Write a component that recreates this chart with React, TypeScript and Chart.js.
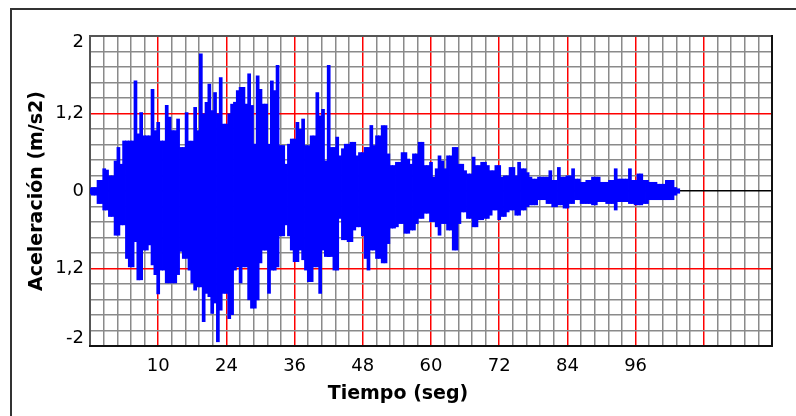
import React, { useEffect, useRef } from "react";
import { Chart, registerables } from "chart.js";

Chart.register(...registerables);

// Envelope of the accelerogram, sampled every 0.5 s (m/s2)
const sampleStep = 0.5;
const positivePeaks = [
  0.05, 0.06, 0.06, 0.17, 0.17, 0.35, 0.33, 0.24, 0.24, 0.47,
  0.68, 0.42, 0.78, 0.78, 0.78, 0.78, 1.71, 0.89, 1.22, 0.86,
  0.86, 0.86, 1.58, 0.94, 1.07, 0.78, 0.78, 1.33, 1.15, 0.94,
  0.94, 1.12, 0.68, 0.68, 1.22, 0.78, 0.78, 1.3, 0.94, 2.13,
  1.2, 1.38, 1.66, 1.25, 1.53, 1.2, 1.76, 1.04, 1.04, 1.2,
  1.35, 1.38, 1.56, 1.61, 1.61, 1.35, 1.82, 1.33, 0.73, 1.79,
  1.58, 1.35, 1.35, 0.73, 1.71, 1.56, 1.95, 0.71, 0.71, 0.42,
  0.73, 0.81, 0.81, 1.07, 0.96, 1.12, 0.71, 0.71, 0.86, 0.86,
  1.53, 1.17, 1.27, 0.47, 1.95, 0.68, 0.68, 0.84, 0.55, 0.66,
  0.73, 0.73, 0.76, 0.76, 0.55, 0.6, 0.6, 0.68, 0.68, 1.02,
  0.71, 0.86, 0.86, 1.02, 1.02, 0.58, 0.4, 0.4, 0.45, 0.45,
  0.6, 0.6, 0.5, 0.42, 0.58, 0.58, 0.76, 0.76, 0.4, 0.4,
  0.45, 0.22, 0.35, 0.55, 0.47, 0.35, 0.55, 0.55, 0.68, 0.68,
  0.42, 0.42, 0.32, 0.27, 0.27, 0.53, 0.4, 0.4, 0.45, 0.45,
  0.4, 0.32, 0.32, 0.4, 0.4, 0.22, 0.24, 0.24, 0.37, 0.37,
  0.24, 0.45, 0.35, 0.35, 0.29, 0.22, 0.19, 0.19, 0.22, 0.22,
  0.22, 0.22, 0.32, 0.17, 0.17, 0.37, 0.22, 0.22, 0.24, 0.24,
  0.35, 0.19, 0.19, 0.14, 0.14, 0.17, 0.17, 0.22, 0.22, 0.22,
  0.14, 0.14, 0.14, 0.17, 0.17, 0.35, 0.19, 0.19, 0.19, 0.19,
  0.35, 0.17, 0.17, 0.27, 0.27, 0.17, 0.17, 0.14, 0.14, 0.14,
  0.11, 0.11, 0.11, 0.17, 0.17, 0.17, 0.06, 0.04,
];
const negativePeaks = [
  -0.05, -0.07, -0.07, -0.2, -0.2, -0.3, -0.3, -0.4, -0.4, -0.69,
  -0.69, -0.53, -0.53, -1.05, -1.18, -1.18, -0.79, -1.38, -1.38, -0.92,
  -0.92, -0.84, -1.15, -1.3, -1.6, -1.23, -1.23, -1.43, -1.43, -1.43,
  -1.43, -1.3, -0.94, -1.05, -1.05, -1.23, -1.43, -1.54, -1.49, -1.49,
  -2.03, -1.59, -1.64, -1.9, -1.74, -2.34, -1.85, -1.59, -1.59, -1.98,
  -1.92, -1.23, -1.18, -1.43, -1.18, -1.18, -1.69, -1.82, -1.82, -1.69,
  -1.12, -0.92, -0.92, -1.59, -1.23, -1.23, -1.18, -0.7, -0.7, -0.53,
  -0.7, -0.92, -1.1, -1.1, -0.92, -1.07, -1.23, -1.41, -1.41, -1.18,
  -1.18, -1.59, -0.92, -1.02, -1.02, -1.02, -1.23, -1.23, -0.43, -0.76,
  -0.76, -0.79, -0.79, -0.61, -0.56, -0.56, -0.7, -1.05, -1.23, -0.92,
  -0.92, -1.05, -1.05, -1.12, -1.12, -0.82, -0.58, -0.58, -0.56, -0.51,
  -0.51, -0.66, -0.66, -0.61, -0.61, -0.51, -0.43, -0.43, -0.35, -0.35,
  -0.48, -0.48, -0.56, -0.69, -0.51, -0.51, -0.61, -0.61, -0.92, -0.92,
  -0.51, -0.33, -0.33, -0.43, -0.43, -0.56, -0.56, -0.45, -0.45, -0.43,
  -0.43, -0.38, -0.3, -0.3, -0.45, -0.4, -0.4, -0.33, -0.3, -0.3,
  -0.38, -0.38, -0.3, -0.3, -0.25, -0.22, -0.22, -0.22, -0.14, -0.14,
  -0.14, -0.2, -0.2, -0.25, -0.25, -0.22, -0.22, -0.27, -0.27, -0.2,
  -0.2, -0.14, -0.14, -0.2, -0.2, -0.2, -0.2, -0.22, -0.22, -0.17,
  -0.17, -0.17, -0.2, -0.2, -0.2, -0.3, -0.17, -0.17, -0.17, -0.17,
  -0.2, -0.2, -0.22, -0.22, -0.22, -0.2, -0.2, -0.14, -0.14, -0.14,
  -0.14, -0.14, -0.14, -0.14, -0.14, -0.14, -0.07, -0.04,
];

// Axis labels as printed on the original chart
const xMajorValues = [0, 12, 24, 36, 48, 60, 72, 84, 96, 108, 120];
const xMajorLabels = ["", "10", "24", "36", "48", "60", "72", "84", "96", "", ""];
const yMajorValues = [-2.4, -1.2, 0, 1.2, 2.4];
const yMajorLabels = ["-2", "1,2", "0", "1,2", "2"];
const xTitle = "Tiempo (seg)";
const yTitle = "Aceleración (m/s2)";

const X_MIN = 0;
const X_MAX = 120;
const X_MINOR = 2.4;
const Y_MIN = -2.4;
const Y_MAX = 2.4;
const Y_MINOR = 0.24;

const SIGNAL_COLOR = "#0000ff";
const TICK_FONT = '18px "DejaVu Sans"';
const TITLE_FONT = 'bold 19px "DejaVu Sans"';

function toRanges() {
  return positivePeaks.map((p, i) => ({ x: i * sampleStep, y: [negativePeaks[i], p] }));
}

const decorPlugin = {
  id: "decor",
  beforeDraw(chart: any) {
    const { ctx, width, height } = chart;
    ctx.save();
    ctx.fillStyle = "#ffffff";
    ctx.fillRect(0, 0, width, height);
    ctx.strokeStyle = "#333333";
    ctx.lineWidth = 2;
    ctx.beginPath();
    ctx.moveTo(11, height);
    ctx.lineTo(11, 9);
    ctx.lineTo(width, 9);
    ctx.stroke();
    ctx.restore();
  },
  beforeDatasetsDraw(chart: any) {
    const { ctx } = chart;
    const { left, top, right, bottom } = chart.chartArea;
    ctx.save();
    ctx.lineWidth = 2;
    ctx.strokeStyle = "#555555";
    ctx.beginPath();
    ctx.moveTo(left, bottom);
    ctx.lineTo(left, top);
    ctx.lineTo(right, top);
    ctx.stroke();
    ctx.strokeStyle = "#111111";
    ctx.beginPath();
    ctx.moveTo(right, top - 1);
    ctx.lineTo(right, bottom);
    ctx.lineTo(left - 1, bottom);
    ctx.stroke();
    ctx.restore();
  },
  afterDraw(chart: any) {
    const { ctx, width } = chart;
    const area = chart.chartArea;
    const yScale = chart.scales.y;
    ctx.save();
    ctx.fillStyle = "#000000";
    ctx.font = TICK_FONT;
    ctx.textAlign = "right";
    ctx.textBaseline = "middle";
    yMajorValues.forEach((v, k) => {
      let py = yScale.getPixelForValue(v);
      py = Math.min(Math.max(py, area.top + 6), area.bottom - 8);
      ctx.fillText(yMajorLabels[k], area.left - 6, py);
    });
    ctx.font = TITLE_FONT;
    ctx.textAlign = "center";
    ctx.fillText(xTitle, width / 2, 394);
    ctx.translate(37, (area.top + area.bottom) / 2);
    ctx.rotate(-Math.PI / 2);
    ctx.fillText(yTitle, 0, 0);
    ctx.restore();
  },
};

export default function App() {
  const ref = useRef<HTMLCanvasElement | null>(null);

  useEffect(() => {
    if (!ref.current) return;
    const chart = new Chart(ref.current, {
      type: "bar",
      data: {
        datasets: [
          {
            data: toRanges() as any,
            backgroundColor: SIGNAL_COLOR,
            borderColor: SIGNAL_COLOR,
            borderWidth: 0,
            barPercentage: 1.3,
            categoryPercentage: 1,
            borderSkipped: false,
          },
        ],
      },
      options: {
        animation: false,
        responsive: false,
        devicePixelRatio: 1,
        events: [],
        layout: { padding: { left: 0, top: 36, right: 24, bottom: 0 } },
        plugins: {
          legend: { display: false },
          tooltip: { enabled: false },
        },
        scales: {
          x: {
            type: "linear",
            min: X_MIN,
            max: X_MAX,
            offset: false,
            afterBuildTicks: (scale: any) => {
              const n = Math.round((X_MAX - X_MIN) / X_MINOR);
              scale.ticks = Array.from({ length: n + 1 }, (_, k) => ({
                value: +(X_MIN + k * X_MINOR).toFixed(3),
              }));
            },
            afterFit: (scale: any) => {
              scale.height = 70;
            },
            border: { display: false },
            grid: {
              offset: false,
              drawTicks: false,
              color: (c: any) => (c.index % 5 === 0 ? "#ff0000" : "#8a8a8a"),
              lineWidth: 1.5,
            },
            ticks: {
              autoSkip: false,
              maxRotation: 0,
              minRotation: 0,
              padding: 10,
              color: "#000000",
              font: { family: "DejaVu Sans", size: 18 },
              callback: (value: any) => {
                const k = xMajorValues.findIndex((v) => Math.abs(v - Number(value)) < 1e-6);
                return k >= 0 ? xMajorLabels[k] : "";
              },
            },
          },
          y: {
            type: "linear",
            min: Y_MIN,
            max: Y_MAX,
            afterBuildTicks: (scale: any) => {
              const n = Math.round((Y_MAX - Y_MIN) / Y_MINOR);
              scale.ticks = Array.from({ length: n + 1 }, (_, k) => ({
                value: +(Y_MIN + k * Y_MINOR).toFixed(3),
              }));
            },
            afterFit: (scale: any) => {
              scale.width = 90;
            },
            border: { display: false },
            grid: {
              drawTicks: false,
              color: (c: any) =>
                c.index === 10 ? "#000000" : c.index % 5 === 0 ? "#ff0000" : "#8a8a8a",
              lineWidth: 1.5,
            },
            ticks: { display: false },
          },
        },
      },
      plugins: [decorPlugin],
    });
    return () => chart.destroy();
  }, []);

  return (
    <div
      style={{
        position: "fixed",
        left: 0,
        top: 0,
        width: 796,
        height: 416,
        background: "#ffffff",
        overflow: "hidden",
      }}
    >
      <canvas ref={ref} width={796} height={416} style={{ display: "block" }} />
    </div>
  );
}
